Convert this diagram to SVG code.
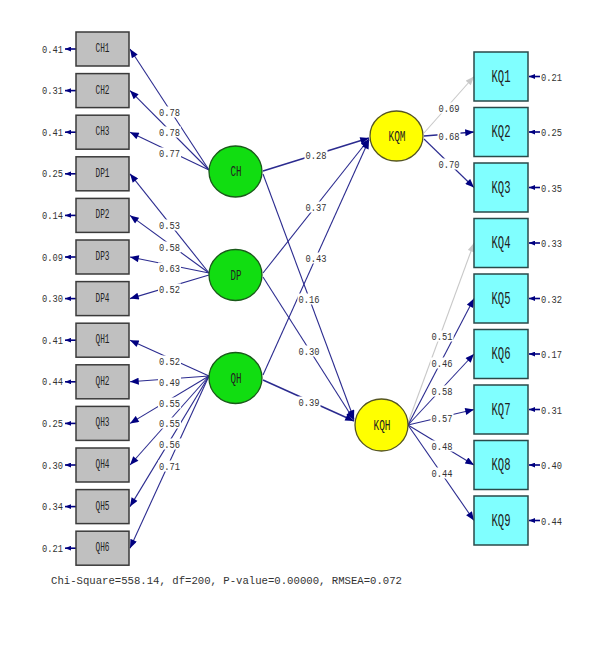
<svg xmlns="http://www.w3.org/2000/svg" width="595" height="665" viewBox="0 0 595 665">
<style>
.bg{fill:#fff}
.obs{fill:#c0c0c0;stroke:#3a3a3a;stroke-width:1.5}
.kq{fill:#80ffff;stroke:#2a4a4a;stroke-width:1.5}
.lat{fill:#11dd11;stroke:#1a5a1a;stroke-width:1.3}
.end{fill:#ffff00;stroke:#555522;stroke-width:1.3}
.lb{fill:#fff}
text{font-family:"Liberation Mono","DejaVu Sans Mono",monospace;fill:#222}
.nm{font-size:12px;text-anchor:middle;dominant-baseline:central}
.nk{font-size:18px;text-anchor:middle;dominant-baseline:central}
.nl{font-size:14px;text-anchor:middle;dominant-baseline:central}
.v{font-size:11.5px;text-anchor:middle;dominant-baseline:central;fill:#333}
.el{font-size:11.5px;text-anchor:end;dominant-baseline:central;fill:#333}
.er{font-size:11.5px;text-anchor:start;dominant-baseline:central;fill:#333}
.ln{stroke:#2b2b8f;stroke-width:1.1;fill:none;marker-end:url(#ah)}
.lg{stroke:#c8c8c8;stroke-width:1.1;fill:none;marker-end:url(#ag)}
.le{stroke:#000080;stroke-width:1.6;fill:none;marker-end:url(#ae)}
.chi{font-size:10.3px;fill:#333}
</style>
<defs>
<marker id="ah" viewBox="0 0 10 8" refX="10" refY="4" markerWidth="10" markerHeight="7" markerUnits="userSpaceOnUse" orient="auto"><path d="M0,0L10,4L0,8z" fill="#000080"/></marker>
<marker id="ag" viewBox="0 0 10 8" refX="10" refY="4" markerWidth="10" markerHeight="7" markerUnits="userSpaceOnUse" orient="auto"><path d="M0,0L10,4L0,8z" fill="#c8c8c8"/></marker>
<marker id="ae" viewBox="0 0 10 8" refX="10" refY="4" markerWidth="6" markerHeight="5" markerUnits="userSpaceOnUse" orient="auto"><path d="M0,0L10,4L0,8z" fill="#000080"/></marker>
</defs>
<rect class="bg" x="0" y="0" width="595" height="665"/>

<g id="connectors">
<line class="le" x1="76" y1="49" x2="65" y2="49"/>
<line class="le" x1="76" y1="90.6" x2="65" y2="90.6"/>
<line class="le" x1="76" y1="132.2" x2="65" y2="132.2"/>
<line class="le" x1="76" y1="173.8" x2="65" y2="173.8"/>
<line class="le" x1="76" y1="215.4" x2="65" y2="215.4"/>
<line class="le" x1="76" y1="257" x2="65" y2="257"/>
<line class="le" x1="76" y1="298.6" x2="65" y2="298.6"/>
<line class="le" x1="76" y1="340.2" x2="65" y2="340.2"/>
<line class="le" x1="76" y1="381.8" x2="65" y2="381.8"/>
<line class="le" x1="76" y1="423.4" x2="65" y2="423.4"/>
<line class="le" x1="76" y1="465" x2="65" y2="465"/>
<line class="le" x1="76" y1="506.6" x2="65" y2="506.6"/>
<line class="le" x1="76" y1="548.2" x2="65" y2="548.2"/>
<line class="le" x1="540" y1="76.5" x2="529" y2="76.5"/>
<line class="le" x1="540" y1="132" x2="529" y2="132"/>
<line class="le" x1="540" y1="187.5" x2="529" y2="187.5"/>
<line class="le" x1="540" y1="243" x2="529" y2="243"/>
<line class="le" x1="540" y1="298.5" x2="529" y2="298.5"/>
<line class="le" x1="540" y1="354" x2="529" y2="354"/>
<line class="le" x1="540" y1="409.5" x2="529" y2="409.5"/>
<line class="le" x1="540" y1="465" x2="529" y2="465"/>
<line class="le" x1="540" y1="520.5" x2="529" y2="520.5"/>
<line class="ln" x1="209" y1="170" x2="130" y2="49"/>
<line class="ln" x1="209" y1="170" x2="130" y2="90.6"/>
<line class="ln" x1="209" y1="170" x2="130" y2="132.2"/>
<line class="ln" x1="209" y1="273" x2="130" y2="173.8"/>
<line class="ln" x1="209" y1="273" x2="130" y2="215.4"/>
<line class="ln" x1="209" y1="273" x2="130" y2="257"/>
<line class="ln" x1="209" y1="275" x2="130" y2="298.6"/>
<line class="ln" x1="209" y1="376" x2="130" y2="340.2"/>
<line class="ln" x1="209" y1="376" x2="130" y2="381.8"/>
<line class="ln" x1="209" y1="376" x2="130" y2="423.4"/>
<line class="ln" x1="209" y1="376" x2="130" y2="465"/>
<line class="ln" x1="209" y1="376" x2="130" y2="506.6"/>
<line class="ln" x1="209" y1="376" x2="130" y2="548.2"/>
<line class="ln" x1="263" y1="171" x2="369" y2="138" style="stroke-width:1.5"/>
<line class="ln" x1="263" y1="273" x2="369" y2="139"/>
<line class="ln" x1="263" y1="375" x2="369" y2="140"/>
<line class="ln" x1="263" y1="174" x2="354" y2="419"/>
<line class="ln" x1="263" y1="277" x2="354" y2="420"/>
<line class="ln" x1="263" y1="380" x2="354" y2="421" style="stroke-width:1.5"/>
<line class="lg" x1="424" y1="133" x2="474" y2="76.5"/>
<line class="ln" x1="424" y1="136" x2="474" y2="132" style="stroke-width:1.5"/>
<line class="ln" x1="424" y1="139" x2="474" y2="187.5"/>
<line class="lg" x1="408" y1="423" x2="474" y2="243"/>
<line class="ln" x1="408" y1="425" x2="474" y2="298.5"/>
<line class="ln" x1="408" y1="425" x2="474" y2="354"/>
<line class="ln" x1="408" y1="425" x2="474" y2="409.5"/>
<line class="ln" x1="408" y1="425" x2="474" y2="465"/>
<line class="ln" x1="408" y1="425" x2="474" y2="520.5"/>
</g>

<g id="labels">
<rect class="lb" x="158" y="106.5" width="23" height="11"/>
<rect class="lb" x="158" y="126.5" width="23" height="11"/>
<rect class="lb" x="158" y="147.5" width="23" height="11"/>
<rect class="lb" x="158" y="219.5" width="23" height="11"/>
<rect class="lb" x="158" y="241.5" width="23" height="11"/>
<rect class="lb" x="158" y="262.5" width="23" height="11"/>
<rect class="lb" x="158" y="283.5" width="23" height="11"/>
<rect class="lb" x="158" y="355.5" width="23" height="11"/>
<rect class="lb" x="158" y="376.5" width="23" height="11"/>
<rect class="lb" x="158" y="397.5" width="23" height="11"/>
<rect class="lb" x="158" y="417.5" width="23" height="11"/>
<rect class="lb" x="158" y="438.5" width="23" height="11"/>
<rect class="lb" x="158" y="460.5" width="23" height="11"/>
<rect class="lb" x="304.5" y="149.5" width="23" height="11"/>
<rect class="lb" x="304.5" y="201.5" width="23" height="11"/>
<rect class="lb" x="304.5" y="252.5" width="23" height="11"/>
<rect class="lb" x="297.5" y="293.5" width="23" height="11"/>
<rect class="lb" x="297.5" y="345.5" width="23" height="11"/>
<rect class="lb" x="297.5" y="396.5" width="23" height="11"/>
<rect class="lb" x="437.5" y="102.5" width="23" height="11"/>
<rect class="lb" x="437.5" y="130.5" width="23" height="11"/>
<rect class="lb" x="437.5" y="158.5" width="23" height="11"/>
<rect class="lb" x="430.5" y="330.5" width="23" height="11"/>
<rect class="lb" x="430.5" y="357.5" width="23" height="11"/>
<rect class="lb" x="430.5" y="385.5" width="23" height="11"/>
<rect class="lb" x="430.5" y="412.5" width="23" height="11"/>
<rect class="lb" x="430.5" y="440.5" width="23" height="11"/>
<rect class="lb" x="430.5" y="467.5" width="23" height="11"/>
<text class="v" x="169.5" y="112" textLength="21" lengthAdjust="spacingAndGlyphs">0.78</text>
<text class="v" x="169.5" y="132" textLength="21" lengthAdjust="spacingAndGlyphs">0.78</text>
<text class="v" x="169.5" y="153" textLength="21" lengthAdjust="spacingAndGlyphs">0.77</text>
<text class="v" x="169.5" y="225" textLength="21" lengthAdjust="spacingAndGlyphs">0.53</text>
<text class="v" x="169.5" y="247" textLength="21" lengthAdjust="spacingAndGlyphs">0.58</text>
<text class="v" x="169.5" y="268" textLength="21" lengthAdjust="spacingAndGlyphs">0.63</text>
<text class="v" x="169.5" y="289" textLength="21" lengthAdjust="spacingAndGlyphs">0.52</text>
<text class="v" x="169.5" y="361" textLength="21" lengthAdjust="spacingAndGlyphs">0.52</text>
<text class="v" x="169.5" y="382" textLength="21" lengthAdjust="spacingAndGlyphs">0.49</text>
<text class="v" x="169.5" y="403" textLength="21" lengthAdjust="spacingAndGlyphs">0.55</text>
<text class="v" x="169.5" y="423" textLength="21" lengthAdjust="spacingAndGlyphs">0.55</text>
<text class="v" x="169.5" y="444" textLength="21" lengthAdjust="spacingAndGlyphs">0.56</text>
<text class="v" x="169.5" y="466" textLength="21" lengthAdjust="spacingAndGlyphs">0.71</text>
<text class="v" x="316" y="155" textLength="21" lengthAdjust="spacingAndGlyphs">0.28</text>
<text class="v" x="316" y="207" textLength="21" lengthAdjust="spacingAndGlyphs">0.37</text>
<text class="v" x="316" y="258" textLength="21" lengthAdjust="spacingAndGlyphs">0.43</text>
<text class="v" x="309" y="299" textLength="21" lengthAdjust="spacingAndGlyphs">0.16</text>
<text class="v" x="309" y="351" textLength="21" lengthAdjust="spacingAndGlyphs">0.30</text>
<text class="v" x="309" y="402" textLength="21" lengthAdjust="spacingAndGlyphs">0.39</text>
<text class="v" x="449" y="108" textLength="21" lengthAdjust="spacingAndGlyphs">0.69</text>
<text class="v" x="449" y="136" textLength="21" lengthAdjust="spacingAndGlyphs">0.68</text>
<text class="v" x="449" y="164" textLength="21" lengthAdjust="spacingAndGlyphs">0.70</text>
<text class="v" x="442" y="336" textLength="21" lengthAdjust="spacingAndGlyphs">0.51</text>
<text class="v" x="442" y="363" textLength="21" lengthAdjust="spacingAndGlyphs">0.46</text>
<text class="v" x="442" y="391" textLength="21" lengthAdjust="spacingAndGlyphs">0.58</text>
<text class="v" x="442" y="418" textLength="21" lengthAdjust="spacingAndGlyphs">0.57</text>
<text class="v" x="442" y="446" textLength="21" lengthAdjust="spacingAndGlyphs">0.48</text>
<text class="v" x="442" y="473" textLength="21" lengthAdjust="spacingAndGlyphs">0.44</text>
<text class="el" x="63" y="49" textLength="21" lengthAdjust="spacingAndGlyphs">0.41</text>
<text class="el" x="63" y="90.6" textLength="21" lengthAdjust="spacingAndGlyphs">0.31</text>
<text class="el" x="63" y="132.2" textLength="21" lengthAdjust="spacingAndGlyphs">0.41</text>
<text class="el" x="63" y="173.8" textLength="21" lengthAdjust="spacingAndGlyphs">0.25</text>
<text class="el" x="63" y="215.4" textLength="21" lengthAdjust="spacingAndGlyphs">0.14</text>
<text class="el" x="63" y="257" textLength="21" lengthAdjust="spacingAndGlyphs">0.09</text>
<text class="el" x="63" y="298.6" textLength="21" lengthAdjust="spacingAndGlyphs">0.30</text>
<text class="el" x="63" y="340.2" textLength="21" lengthAdjust="spacingAndGlyphs">0.41</text>
<text class="el" x="63" y="381.8" textLength="21" lengthAdjust="spacingAndGlyphs">0.44</text>
<text class="el" x="63" y="423.4" textLength="21" lengthAdjust="spacingAndGlyphs">0.25</text>
<text class="el" x="63" y="465" textLength="21" lengthAdjust="spacingAndGlyphs">0.30</text>
<text class="el" x="63" y="506.6" textLength="21" lengthAdjust="spacingAndGlyphs">0.34</text>
<text class="el" x="63" y="548.2" textLength="21" lengthAdjust="spacingAndGlyphs">0.21</text>
<text class="er" x="541" y="77" textLength="21" lengthAdjust="spacingAndGlyphs">0.21</text>
<text class="er" x="541" y="132.5" textLength="21" lengthAdjust="spacingAndGlyphs">0.25</text>
<text class="er" x="541" y="188" textLength="21" lengthAdjust="spacingAndGlyphs">0.35</text>
<text class="er" x="541" y="243.5" textLength="21" lengthAdjust="spacingAndGlyphs">0.33</text>
<text class="er" x="541" y="299" textLength="21" lengthAdjust="spacingAndGlyphs">0.32</text>
<text class="er" x="541" y="354.5" textLength="21" lengthAdjust="spacingAndGlyphs">0.17</text>
<text class="er" x="541" y="410" textLength="21" lengthAdjust="spacingAndGlyphs">0.31</text>
<text class="er" x="541" y="465.5" textLength="21" lengthAdjust="spacingAndGlyphs">0.40</text>
<text class="er" x="541" y="521" textLength="21" lengthAdjust="spacingAndGlyphs">0.44</text>
</g>

<g id="CH1"><rect class="obs" x="76" y="32" width="53" height="34"/><text class="nm" x="102.5" y="49" textLength="14" lengthAdjust="spacingAndGlyphs">CH1</text></g>
<g id="CH2"><rect class="obs" x="76" y="73.6" width="53" height="34"/><text class="nm" x="102.5" y="90.6" textLength="14" lengthAdjust="spacingAndGlyphs">CH2</text></g>
<g id="CH3"><rect class="obs" x="76" y="115.2" width="53" height="34"/><text class="nm" x="102.5" y="132.2" textLength="14" lengthAdjust="spacingAndGlyphs">CH3</text></g>
<g id="DP1"><rect class="obs" x="76" y="156.8" width="53" height="34"/><text class="nm" x="102.5" y="173.8" textLength="14" lengthAdjust="spacingAndGlyphs">DP1</text></g>
<g id="DP2"><rect class="obs" x="76" y="198.4" width="53" height="34"/><text class="nm" x="102.5" y="215.4" textLength="14" lengthAdjust="spacingAndGlyphs">DP2</text></g>
<g id="DP3"><rect class="obs" x="76" y="240" width="53" height="34"/><text class="nm" x="102.5" y="257" textLength="14" lengthAdjust="spacingAndGlyphs">DP3</text></g>
<g id="DP4"><rect class="obs" x="76" y="281.6" width="53" height="34"/><text class="nm" x="102.5" y="298.6" textLength="14" lengthAdjust="spacingAndGlyphs">DP4</text></g>
<g id="QH1"><rect class="obs" x="76" y="323.2" width="53" height="34"/><text class="nm" x="102.5" y="340.2" textLength="14" lengthAdjust="spacingAndGlyphs">QH1</text></g>
<g id="QH2"><rect class="obs" x="76" y="364.8" width="53" height="34"/><text class="nm" x="102.5" y="381.8" textLength="14" lengthAdjust="spacingAndGlyphs">QH2</text></g>
<g id="QH3"><rect class="obs" x="76" y="406.4" width="53" height="34"/><text class="nm" x="102.5" y="423.4" textLength="14" lengthAdjust="spacingAndGlyphs">QH3</text></g>
<g id="QH4"><rect class="obs" x="76" y="448" width="53" height="34"/><text class="nm" x="102.5" y="465" textLength="14" lengthAdjust="spacingAndGlyphs">QH4</text></g>
<g id="QH5"><rect class="obs" x="76" y="489.6" width="53" height="34"/><text class="nm" x="102.5" y="506.6" textLength="14" lengthAdjust="spacingAndGlyphs">QH5</text></g>
<g id="QH6"><rect class="obs" x="76" y="531.2" width="53" height="34"/><text class="nm" x="102.5" y="548.2" textLength="14" lengthAdjust="spacingAndGlyphs">QH6</text></g>

<g id="CH"><ellipse class="lat" cx="235.5" cy="171.5" rx="26.5" ry="25.5"/><text class="nl" x="236" y="172" textLength="11" lengthAdjust="spacingAndGlyphs">CH</text></g>
<g id="DP"><ellipse class="lat" cx="235.5" cy="275" rx="26.5" ry="25.5"/><text class="nl" x="236" y="275.5" textLength="11" lengthAdjust="spacingAndGlyphs">DP</text></g>
<g id="QH"><ellipse class="lat" cx="235.5" cy="378" rx="26.5" ry="25.5"/><text class="nl" x="236" y="378.5" textLength="11" lengthAdjust="spacingAndGlyphs">QH</text></g>

<g id="KQM"><ellipse class="end" cx="396.5" cy="136" rx="26.5" ry="25"/><text class="nl" x="397" y="136.5" textLength="17" lengthAdjust="spacingAndGlyphs">KQM</text></g>
<g id="KQH"><ellipse class="end" cx="381.5" cy="425" rx="26.5" ry="26"/><text class="nl" x="382" y="425.5" textLength="17" lengthAdjust="spacingAndGlyphs">KQH</text></g>

<g id="KQ1"><rect class="kq" x="474" y="52" width="54" height="49"/><text class="nk" x="501" y="76.5" textLength="19" lengthAdjust="spacingAndGlyphs">KQ1</text></g>
<g id="KQ2"><rect class="kq" x="474" y="107.5" width="54" height="49"/><text class="nk" x="501" y="132" textLength="19" lengthAdjust="spacingAndGlyphs">KQ2</text></g>
<g id="KQ3"><rect class="kq" x="474" y="163" width="54" height="49"/><text class="nk" x="501" y="187.5" textLength="19" lengthAdjust="spacingAndGlyphs">KQ3</text></g>
<g id="KQ4"><rect class="kq" x="474" y="218.5" width="54" height="49"/><text class="nk" x="501" y="243" textLength="19" lengthAdjust="spacingAndGlyphs">KQ4</text></g>
<g id="KQ5"><rect class="kq" x="474" y="274" width="54" height="49"/><text class="nk" x="501" y="298.5" textLength="19" lengthAdjust="spacingAndGlyphs">KQ5</text></g>
<g id="KQ6"><rect class="kq" x="474" y="329.5" width="54" height="49"/><text class="nk" x="501" y="354" textLength="19" lengthAdjust="spacingAndGlyphs">KQ6</text></g>
<g id="KQ7"><rect class="kq" x="474" y="385" width="54" height="49"/><text class="nk" x="501" y="409.5" textLength="19" lengthAdjust="spacingAndGlyphs">KQ7</text></g>
<g id="KQ8"><rect class="kq" x="474" y="440.5" width="54" height="49"/><text class="nk" x="501" y="465" textLength="19" lengthAdjust="spacingAndGlyphs">KQ8</text></g>
<g id="KQ9"><rect class="kq" x="474" y="496" width="54" height="49"/><text class="nk" x="501" y="520.5" textLength="19" lengthAdjust="spacingAndGlyphs">KQ9</text></g>

<text class="chi" x="51" y="584" textLength="351" lengthAdjust="spacingAndGlyphs">Chi-Square=558.14, df=200, P-value=0.00000, RMSEA=0.072</text>
</svg>
